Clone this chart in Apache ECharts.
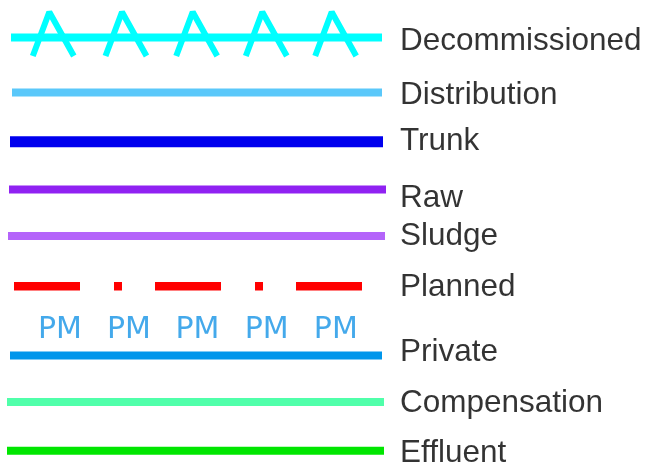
<!DOCTYPE html>
<html><head><meta charset="utf-8">
<script src="https://cdn.jsdelivr.net/npm/echarts@6/dist/echarts.min.js"></script>
<style>html,body{margin:0;padding:0;background:#fff}#c{width:648px;height:468px}</style>
</head><body><div id="c"></div>
<script>
// ---- data ----
const categories = ['Decommissioned', 'Distribution', 'Trunk', 'Raw', 'Sludge', 'Planned', 'Private', 'Compensation', 'Effluent'];
const rowValue = [37.5, 92.5, 141.7, 189.5, 236, 286.3, 355.5, 402, 450.8];
const lineFrom = [11, 12, 10, 9, 8, 14, 10, 7, 7];
const lineTo = [382, 382, 383, 386, 385, 363, 382, 384, 384];
const labelValue = [38.7, 92.5, 138.7, 196, 233.5, 284.7, 349.5, 400.5, 450.8];
const labelAt = 400;
const decommissionedTicks = [49.3, 122, 192.7, 262.3, 331.7];
const privateMarks = ['PM', 'PM', 'PM', 'PM', 'PM'];
const privateMarkAt = [60, 129, 197.5, 266.7, 335.8];
const privateMarkValue = 327.5;

// ---- styles ----
const colors = ['#00FFFF', '#5AC8FA', '#0000EE', '#9022F2', '#B464FA', '#FF0000', '#0096EB', '#50FFAA', '#00E600'];
const widths = [8, 8, 11, 8, 8, 8.5, 8, 8, 8];
const dashes = [null, null, null, null, null, [66, 34, 8, 33], null, null, null];

const series = [];
categories.forEach((name, i) => {
  series.push({
    type: 'line', name, silent: true, symbol: 'none', animation: false,
    data: [[lineFrom[i], rowValue[i]], [lineTo[i], rowValue[i]]],
    lineStyle: { color: colors[i], width: widths[i], type: dashes[i] || 'solid', cap: 'butt' }
  });
});
series.push({
  type: 'lines', coordinateSystem: 'cartesian2d', polyline: true, silent: true, animation: false,
  data: decommissionedTicks.map(p => ({ coords: [[p - 16.5, 56], [p, 12], [p + 24.5, 56]] })),
  lineStyle: { color: '#00FFFF', width: 6, opacity: 1, cap: 'butt', join: 'bevel' }
});
series.push({
  type: 'scatter', silent: true, animation: false, symbolSize: 0,
  data: categories.map((n, i) => [labelAt, labelValue[i], n]),
  label: { show: true, position: 'right', distance: 0, offset: [0, 2.5], formatter: p => p.data[2],
    fontFamily: 'Liberation Sans, Arial, sans-serif', fontSize: 31.5, color: '#000000' }
});
series.push({
  type: 'scatter', silent: true, animation: false, symbolSize: 0,
  data: privateMarks.map((t, i) => [privateMarkAt[i], privateMarkValue, t]),
  label: { show: true, position: 'inside', offset: [0, 3], formatter: p => p.data[2],
    fontFamily: 'DejaVu Sans, sans-serif', fontSize: 30, color: '#1593E6' }
});

const chart = echarts.init(document.getElementById('c'), null, { renderer: 'canvas' });
chart.setOption({
  backgroundColor: '#fff',
  animation: false,
  grid: { left: 0, right: 0, top: 0, bottom: 0 },
  xAxis: { type: 'value', min: 0, max: 648, show: false },
  yAxis: { type: 'value', min: 0, max: 468, inverse: true, show: false },
  series
});
</script></body></html>
